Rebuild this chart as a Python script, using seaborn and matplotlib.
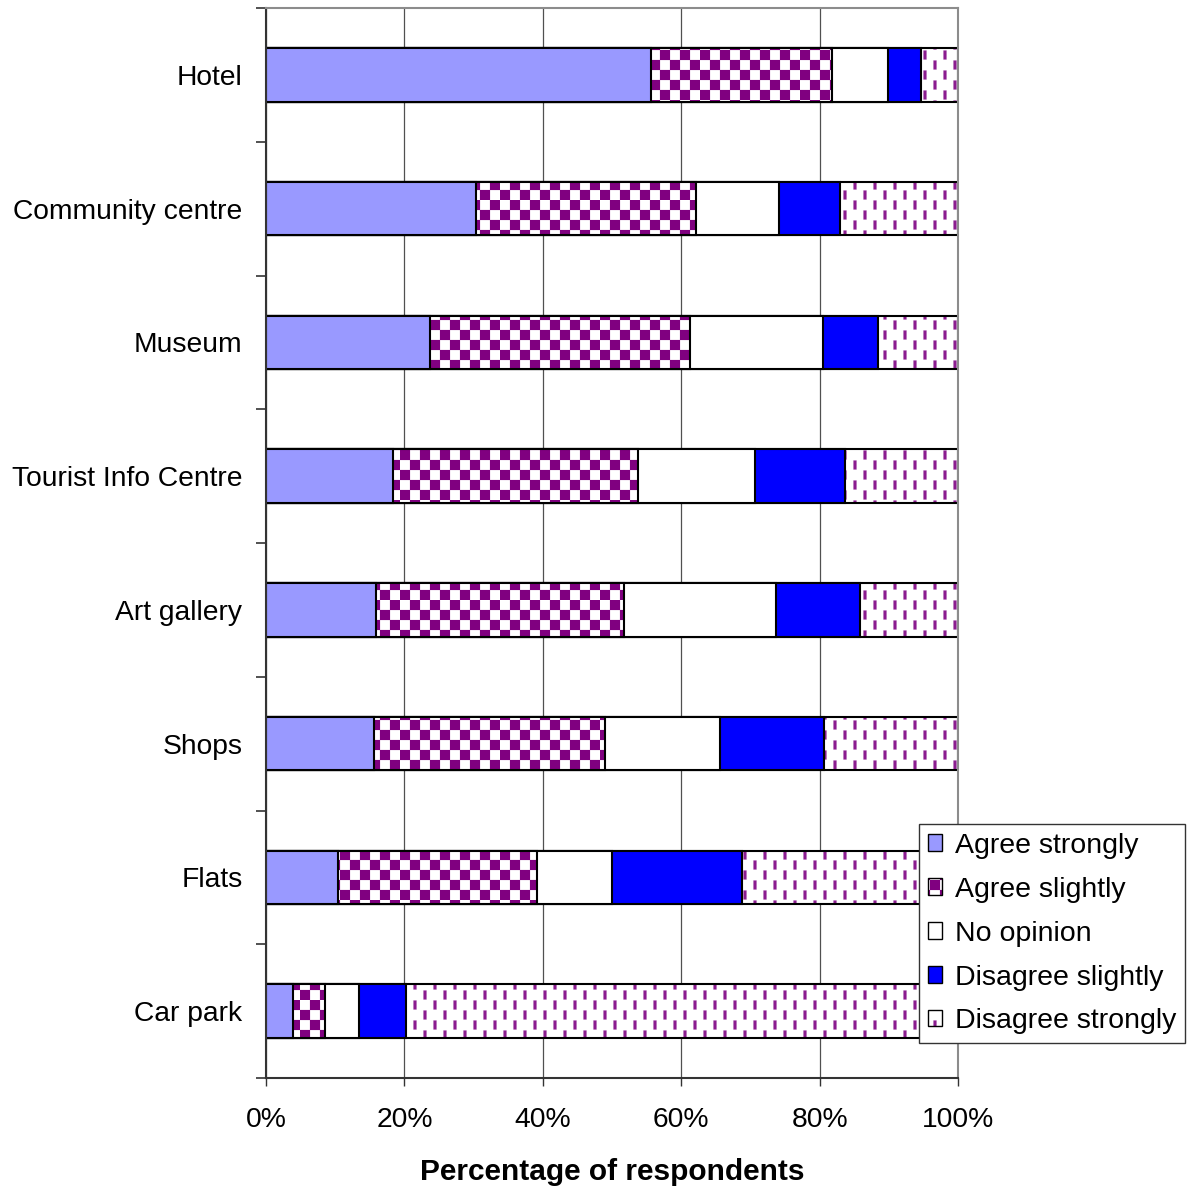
import warnings
import numpy as np
import pandas as pd
import matplotlib
matplotlib.use("Agg")
import matplotlib.pyplot as plt
import matplotlib.hatch as mhatch
from matplotlib.path import Path
from matplotlib.colors import to_rgba
import seaborn as sns

warnings.filterwarnings("ignore")

# ---------------------------------------------------------------- data
venues = ["Hotel", "Community centre", "Museum", "Tourist Info Centre",
          "Art gallery", "Shops", "Flats", "Car park"]
responses = ["Agree strongly", "Agree slightly", "No opinion",
             "Disagree slightly", "Disagree strongly"]

agree_strongly = [55.6, 30.3, 23.7, 18.4, 15.9, 15.6, 10.4, 3.9]
agree_slightly = [26.2, 31.8, 37.6, 35.3, 35.8, 33.4, 28.8, 4.6]
no_opinion = [8.1, 12.1, 19.2, 16.9, 22.0, 16.6, 10.8, 4.9]
disagree_slightly = [4.8, 8.7, 7.9, 13.0, 12.1, 15.0, 18.8, 6.9]
disagree_strongly = [5.3, 17.1, 11.6, 16.4, 14.2, 19.4, 31.2, 79.7]

x_ticks = [0, 20, 40, 60, 80, 100]
x_tick_labels = ["0%", "20%", "40%", "60%", "80%", "100%"]


# ---------------------------------------------------------- fill textures
class CheckerHatch(mhatch.HatchPatternBase):
    """Filled checkerboard squares; 'c' in the hatch string."""

    def __init__(self, hatch, density):
        count = hatch.count("c")
        self.n = 10 * count if count else 0
        self.num_squares = (self.n * self.n) // 2
        self.num_vertices = self.num_squares * 5

    def set_vertices_and_codes(self, vertices, codes):
        s = 1.0 / self.n
        verts = []
        for i in range(self.n):
            for j in range(self.n):
                if (i + j) % 2 == 0:
                    x0, y0 = i * s, j * s
                    verts += [(x0, y0), (x0 + s, y0), (x0 + s, y0 + s),
                              (x0, y0 + s), (x0, y0)]
        vertices[:] = np.array(verts)
        codes[:] = np.tile([Path.MOVETO, Path.LINETO, Path.LINETO,
                            Path.LINETO, Path.CLOSEPOLY], self.num_squares)


class DashHatch(mhatch.HatchPatternBase):
    """Staggered short vertical dashes; 'd' in the hatch string."""

    def __init__(self, hatch, density):
        count = hatch.count("d")
        self.cols = 10 * count if count else 0
        self.rows = 5 * count if count else 0
        self.num_dashes = self.cols * self.rows
        self.num_vertices = self.num_dashes * 5

    def set_vertices_and_codes(self, vertices, codes):
        dx = 1.0 / self.cols
        dy = 1.0 / self.rows
        w = 0.03
        h = 0.09
        verts = []
        for i in range(self.cols):
            xc = (i + 0.5) * dx
            shift = 0.5 * dy if i % 2 else 0.0
            for j in range(self.rows):
                yc = j * dy + 0.25 * dy + shift
                x0, y0 = xc - w / 2, yc - h / 2
                verts += [(x0, y0), (x0 + w, y0), (x0 + w, y0 + h),
                          (x0, y0 + h), (x0, y0)]
        vertices[:] = np.array(verts)
        codes[:] = np.tile([Path.MOVETO, Path.LINETO, Path.LINETO,
                            Path.LINETO, Path.CLOSEPOLY], self.num_dashes)


mhatch._hatch_types.extend([CheckerHatch, DashHatch])

# ---------------------------------------------------------------- style
sns.set_style("white")
plt.rcParams["font.family"] = ["Liberation Sans", "DejaVu Sans"]
plt.rcParams["hatch.linewidth"] = 0.1
plt.rcParams["text.color"] = "black"
plt.rcParams["axes.labelcolor"] = "black"
plt.rcParams["xtick.labelcolor"] = "black"
plt.rcParams["ytick.labelcolor"] = "black"

face_colors = ["#9999FF", "white", "white", "#0000FF", "white"]
hatches = [None, "c", None, None, "d"]
hatch_colors = [None, "#800080", None, None, "#8B1C8F"]

df = pd.DataFrame({
    "venue": venues,
    responses[0]: agree_strongly,
    responses[1]: agree_slightly,
    responses[2]: no_opinion,
    responses[3]: disagree_slightly,
    responses[4]: disagree_strongly,
})
cum = df[responses].cumsum(axis=1)

fig = plt.figure(figsize=(11.94, 11.87), dpi=100)
ax = fig.add_axes([266 / 1194, 109 / 1187, 692 / 1194, 1070 / 1187])

# stacked bars: draw cumulative totals from the outermost segment inwards
handles = {}
for k in range(len(responses) - 1, -1, -1):
    n_before = len(ax.patches)
    sns.barplot(x=cum[responses[k]], y=df["venue"], orient="h",
                color=face_colors[k], saturation=1, width=0.4,
                edgecolor="black", linewidth=1.5, hatch=hatches[k],
                ax=ax, zorder=2)
    new = ax.patches[n_before:]
    for p in new:
        if hatch_colors[k] is not None:
            p._hatch_color = to_rgba(hatch_colors[k])
    handles[responses[k]] = new[0]

ax.set_xlim(0, 100)
ax.set_ylim(7.5, -0.5)
ax.set_xticks(x_ticks)
ax.set_xticklabels(x_tick_labels, fontsize=20.3)
ax.set_yticks(range(len(venues)))
ax.set_yticklabels(venues, fontsize=20.3)
ax.set_yticks(np.arange(-0.5, len(venues), 1.0), minor=True)
ax.tick_params(axis="y", which="major", length=0, pad=17)
ax.tick_params(axis="y", which="minor", length=7.2, width=1.2,
               color="#333333", direction="out", left=True)
ax.tick_params(axis="x", which="major", length=5.8, width=1.0,
               color="#333333", direction="out", bottom=True, pad=15)
ax.set_xlabel("Percentage of respondents", fontsize=21.5,
              fontweight="bold", labelpad=18)
ax.set_ylabel("")

ax.set_axisbelow(True)
ax.grid(axis="x", color="#505050", linewidth=0.9)
ax.grid(axis="y", visible=False)

for side in ["left", "bottom"]:
    ax.spines[side].set_color("#333333")
    ax.spines[side].set_linewidth(1.5)
for side in ["top", "right"]:
    ax.spines[side].set_color("#8C8C8C")
    ax.spines[side].set_linewidth(1.5)

leg = ax.legend([handles[r] for r in responses], responses,
                loc="lower left", bbox_to_anchor=(919 / 1194, 1 - 1043 / 1187),
                bbox_transform=fig.transFigure, fontsize=20.5,
                frameon=True, fancybox=False, shadow=False,
                handlelength=0.5, handleheight=0.5, handletextpad=0.45,
                labelspacing=0.63, borderpad=0.3, borderaxespad=0.0)
leg.get_frame().set_edgecolor("#333333")
leg.get_frame().set_linewidth(1.0)
leg.get_frame().set_alpha(1)
leg.set_zorder(10)
for h in leg.legend_handles:
    h.set_linewidth(1.0)

fig.savefig("out.png", dpi=100)
